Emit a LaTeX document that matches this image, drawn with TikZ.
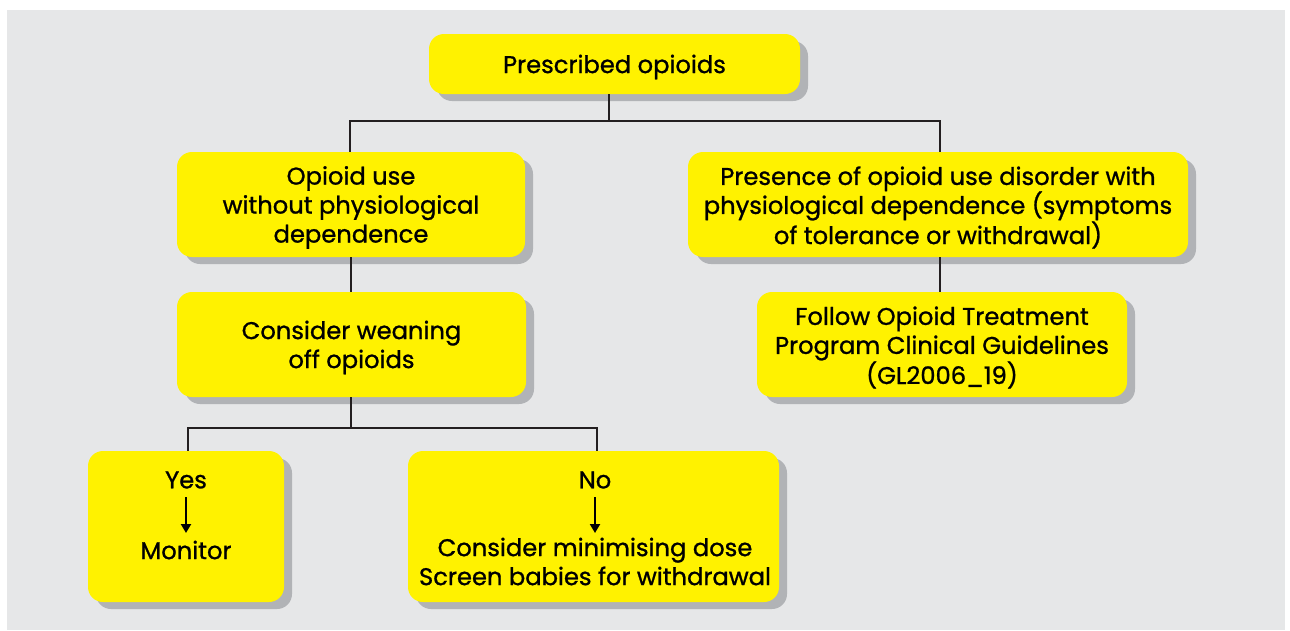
\documentclass[tikz,border=0pt]{standalone}
\usepackage{fontspec}
\setmainfont{Poppins}[FakeBold=1]
\usetikzlibrary{arrows.meta,shadows}
\definecolor{bgGray}{HTML}{E6E7E8}
\definecolor{boxYellow}{HTML}{FFF200}
\definecolor{shadowGray}{HTML}{B1B3B6}
\definecolor{lineDark}{HTML}{231F20}
\begin{document}
\begin{tikzpicture}[x=1pt,y=-1pt,
  box/.style={fill=boxYellow, rounded corners=15pt, inner sep=0pt,
    drop shadow={shadow xshift=8pt, shadow yshift=-7pt, fill=shadowGray, opacity=1}},
  txt/.style={inner sep=0pt, align=center, font=\fontsize{24.2}{29}\selectfont},
  conn/.style={draw=lineDark, line width=2pt},
  inarrow/.style={draw=black, line width=2pt, -{Triangle[length=9pt,width=10pt]}}]
\useasboundingbox (0,0) rectangle (1290,630);
\fill[white] (0,0) rectangle (1290,630);
\fill[bgGray] (7,10) rectangle (1285,630);

\node[box, minimum width=371pt, minimum height=60pt] (top) at (614.5,64) {};
\node[box, minimum width=348pt, minimum height=105pt] (use) at (351,204.5) {};
\node[box, minimum width=500pt, minimum height=105pt] (dis) at (938,204.5) {};
\node[box, minimum width=349pt, minimum height=105pt] (wean) at (351.5,344.5) {};
\node[box, minimum width=370pt, minimum height=105pt] (otp) at (942,344.5) {};
\node[box, minimum width=196pt, minimum height=151pt] (yesbox) at (186,526.5) {};
\node[box, minimum width=371pt, minimum height=151pt] (nobox) at (593.5,526.5) {};

\node[txt] (toptxt) at ([yshift=-3pt]top.center) {Prescribed opioids};
\node[txt] (usetxt) at ([yshift=-3pt]use.center) {Opioid use\\without physiological\\dependence};
\node[txt] (distxt) at ([yshift=-3pt]dis.center) {Presence of opioid use disorder with\\physiological dependence (symptoms\\of tolerance or withdrawal)};
\node[txt] (weantxt) at ([yshift=-3pt]wean.center) {Consider weaning\\off opioids};
\node[txt] (otptxt) at ([yshift=-3pt]otp.center) {Follow Opioid Treatment\\Program Clinical Guidelines\\(GL2006\_19)};

\node[txt] (yes) at (186,480) {Yes};
\node[txt] (mon) at (186,550) {Monitor};
\node[txt] (no) at (595,480) {No};
\node[txt, anchor=north] (min) at (595,537.5) {Consider minimising dose\\Screen babies for withdrawal};

\coordinate (j1) at (609,121);
\coordinate (j2) at (351,428);
\draw[conn] (top.south -| j1) -- (j1);
\draw[conn] (use.north -| 350,0) -- (350,121) -- (940,121) -- (dis.north -| 940,0);
\draw[conn] (use.south -| 351,0) -- (wean.north -| 351,0);
\draw[conn] (dis.south -| 940,0) -- (otp.north -| 940,0);
\draw[conn] (wean.south -| j2) -- (j2);
\draw[conn] (yesbox.north -| 188,0) -- (188,428) -- (597,428) -- (nobox.north -| 597,0);

\draw[inarrow] (186,497) -- (186,533);
\draw[inarrow] (595,497) -- (595,533);
\end{tikzpicture}
\end{document}
